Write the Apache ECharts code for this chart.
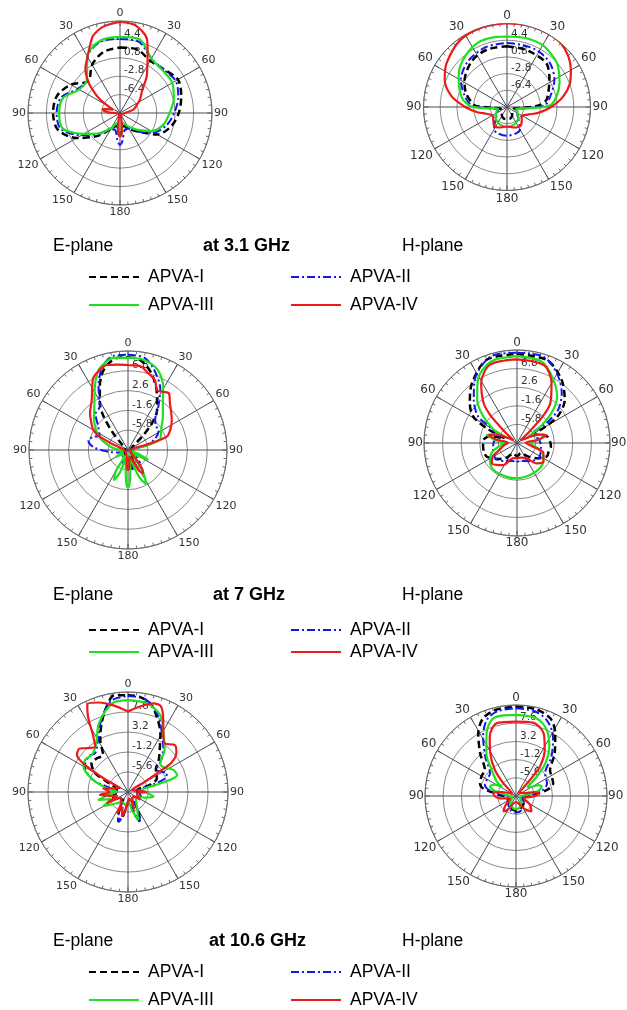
<!DOCTYPE html>
<html>
<head>
<meta charset="utf-8">
<script src="https://cdn.jsdelivr.net/npm/echarts@6/dist/echarts.min.js"></script>
<style>html,body{margin:0;padding:0;background:#fff}#c{width:627px;height:1010px}</style>
</head>
<body>
<div id="c"></div>
<script>
// ---- data: [angle (deg, clockwise from 0 at top), gain (dB)] ----
const SERIES_NAMES = ['APVA-I', 'APVA-II', 'APVA-III', 'APVA-IV'];
const ANGLE_LABELS = [0, 30, 60, 90, 120, 150, 180, 150, 120, 90, 60, 30];

// E-plane 3.1 GHz
const E31_I = [[0,2.8],[15,2.9],[30,1.8],[45,2.1],[60,3.1],[75,2.4],[90,1.5],[105,0.3],[120,-1.6],[135,-4.8],[150,-6.4],[165,-7.4],[180,-5.6],[195,-7.4],[210,-6.4],[225,-3.6],[240,-0.2],[255,2.6],[270,3.1],[285,2.8],[300,1.1],[315,-1.2],[330,0.9],[345,2.4]];
const E31_II = [[0,4.5],[15,4.4],[30,2.3],[45,2.0],[60,2.6],[75,1.8],[90,0.6],[105,-0.6],[120,-2.4],[135,-4.8],[150,-6.5],[165,-6.5],[175,-4.5],[180,-3.8],[185,-4.5],[195,-6.5],[210,-6.4],[225,-4.2],[240,-1.3],[255,2.0],[270,2.4],[285,1.9],[300,-0.5],[315,-0.8],[330,2.7],[345,4.5]];
const E31_III = [[0,4.9],[15,4.9],[30,2.3],[45,1.8],[60,1.8],[75,0.9],[90,-0.3],[105,-1.2],[120,-2.9],[135,-5.4],[150,-7],[165,-8],[175,-6.2],[180,-5.5],[185,-6.2],[195,-8],[210,-6.6],[225,-4.4],[240,-1.8],[255,1.6],[270,1.9],[285,1.5],[300,-0.8],[315,-0.8],[330,2.8],[345,4.7]];
const E31_IV = [[0,7.8],[10,7.4],[20,5.4],[25,2.8],[30,0.7],[36,-1.1],[45,-3.9],[56,-5.3],[66,-6.5],[76,-7.3],[90,-9],[120,-9.5],[160,-9.5],[170,-8],[175,-6],[180,-5.4],[185,-6],[190,-8],[200,-9.5],[260,-9.5],[272,-8],[278,-6.8],[283,-6.5],[288,-7.5],[295,-8.5],[300,-7.5],[304,-5.3],[309,-3.5],[314,-1.5],[322,1],[330,2.7],[340,5.8],[345,6.7],[350,7.3]];

// H-plane 3.1 GHz
const H31_I = [[0,3.1],[15,3.0],[25,2.9],[42,2.7],[57,0.9],[70,-0.5],[80,-1.4],[87,-3],[93,-6.5],[105,-8.5],[130,-8.5],[150,-7.8],[165,-7.4],[180,-7.4],[195,-7.4],[210,-7.8],[230,-8.5],[255,-8.5],[267,-6.5],[273,-3],[281,-1.8],[290,-0.5],[301,0.7],[323,2.5],[341,3.1]];
const H31_II = [[0,3.8],[15,3.8],[30,3.8],[45,3.2],[60,1.8],[80,-0.8],[88,-2],[94,-6],[105,-8],[130,-7],[150,-4.4],[160,-4],[180,-3.8],[200,-4],[210,-4.4],[230,-7],[255,-8],[266,-6],[272,-2.5],[283,-0.8],[300,1.5],[320,3.0],[341,3.7]];
const H31_III = [[0,5.2],[15,5.4],[30,5.4],[45,4.6],[52,4],[65,2.5],[78,0.9],[88,-0.8],[93,-5],[100,-8],[115,-7.5],[130,-6.8],[145,-6.2],[160,-5.9],[180,-5.7],[200,-5.9],[215,-6.2],[230,-6.8],[245,-7.5],[260,-8],[267,-5],[272,-2],[283,0.1],[302,2.3],[317,3.9],[335,5.2],[350,5.3]];
const H31_IV = [[0,8.1],[15,8.2],[30,8.2],[40,8],[50,7.2],[60,5.9],[70,4.4],[80,2.2],[90,-0.5],[100,-3],[110,-5.2],[122,-6.3],[132,-5.7],[145,-5],[160,-5.3],[180,-5.8],[200,-5.3],[215,-5.1],[228,-6],[238,-6.4],[252,-5.3],[260,-3.5],[270,-1],[281,2.2],[294,4.7],[306,6.1],[325,7.6],[343,8.0]];

// E-plane 7 GHz
const E70_I = [[0,9.7],[8,9.2],[17,7],[27,3.5],[36,0.5],[42,-2.4],[46,-5.5],[52,-8.5],[70,-9.3],[110,-9.3],[140,-8.5],[158,-7.5],[166,-6.4],[172,-7.5],[185,-7.8],[195,-7],[202,-8.5],[240,-9.3],[300,-9.3],[314,-8],[319,-5],[324,-1.2],[329,1.6],[336,4.7],[343,7.7],[352,9.6]];
const E70_II = [[0,10.2],[10,9.9],[18,7.9],[28,4.6],[35,1.2],[42,-1.4],[50,-2.2],[57,-2.2],[67,-3.7],[75,-5.8],[82,-8.5],[100,-9.2],[125,-8],[137,-6.2],[148,-7.5],[160,-6.5],[167,-5.8],[175,-7],[182,-6.5],[190,-7.5],[205,-7],[215,-8],[240,-9],[255,-8],[262,-6.5],[268,-5],[275,-2.6],[284,-1.3],[291,-2.2],[297,-3.2],[308,-2],[318,0.3],[327,1.0],[335,4.8],[343,8.5],[351,10.2]];
const E70_III = [[0,9.6],[10,9.4],[20,8.2],[29,5.4],[38,2],[46,0.3],[55,-1.3],[65,-2.3],[72,-2.9],[77,-6],[83,-9],[105,-9],[110,-7.8],[116,-5.2],[122,-7.8],[132,-9.2],[142,-7],[147,-3.8],[152,-1.8],[157,-3.5],[162,-7],[168,-9],[173,-6],[177,-3],[180,-2],[183,-3],[187,-6],[194,-8.5],[200,-4.8],[205,-2.9],[210,-4.8],[216,-8.5],[230,-8.5],[240,-7],[248,-8.5],[262,-9],[275,-7.5],[281,-6.2],[293,-3.6],[305,-1.5],[315,0.2],[322,1.6],[332,5],[338,7.5],[342,8.6],[351,9.8]];
const E70_IV = [[0,8.0],[8,8.0],[15,6.8],[21,5.9],[26,4.1],[31,4.4],[36,4.8],[42,3.3],[50,2],[56,1.2],[64,0],[71,-1.3],[74,-6],[80,-9.3],[120,-9.3],[138,-7.5],[143,-5],[147,-4.1],[152,-5],[158,-8],[170,-8.5],[176,-6.3],[180,-5.8],[184,-6.3],[190,-8.5],[260,-9.3],[285,-8.5],[292,-6],[296,-3],[300,-1.5],[305,-0.6],[314,1.2],[324,3.1],[334,6.9],[340,7.9],[346,8.6],[354,8.2]];

// H-plane 7 GHz
const H70_I = [[0,10.1],[20,9.9],[35,7.5],[48,4.5],[56,1.4],[60,-2.3],[62,-7],[68,-5],[78,-3],[88,-2.5],[96,-2.3],[105,-2.6],[114,-2.6],[128,-4.4],[140,-6],[160,-7.5],[180,-7],[200,-7.5],[215,-6],[228,-4.6],[246,-2.5],[255,-2.3],[264,-2.3],[275,-2.4],[283,-3.5],[291,-7],[296,-2.4],[301,1.5],[310,3.9],[323,6.9],[340,10]];
const H70_II = [[0,10.4],[17,10.4],[30,8.1],[42,5.1],[51,2],[56,-2],[60,-6],[68,-6],[80,-5],[100,-4.5],[125,-4],[145,-5],[165,-5.8],[180,-5.8],[195,-5.8],[215,-5],[235,-4],[260,-4.5],[280,-5],[292,-6],[298,-4],[301,-2.9],[304,0.5],[315,3.8],[326,7.1],[343,10.4]];
const H70_III = [[0,9.6],[17,9.2],[29,6.7],[41,3.8],[49,0.3],[55,-3.6],[60,-7],[67,-5],[74,-3.4],[81,-5],[90,-7],[100,-6],[110,-4],[123,-2.9],[138,-2.3],[158,-2.2],[180,-2],[197,-2],[221,-1.9],[238,-2.8],[250,-4],[260,-6],[270,-7.5],[278,-5],[285,-2.9],[292,-5],[297,-6],[300,-3.9],[308,-0.4],[317,3.2],[328,6.7],[342,9.3]];
const H70_IV = [[0,8.9],[19,8.6],[30,5.6],[40,1.7],[44,-1.5],[47,-6],[52,-9],[62,-8],[68,-5],[75,-3.1],[81,-5],[88,-8],[100,-7],[111,-3.6],[125,-2.7],[136,-3.6],[148,-5.9],[165,-6.6],[180,-6.6],[193,-6.5],[212,-4.1],[231,-2.7],[240,-3.6],[250,-6],[260,-7],[272,-8],[280,-5],[286,-3.3],[292,-5],[300,-8],[308,-9],[313,-6],[316,-1.5],[320,1.7],[329,5.7],[341,8.7]];

// E-plane 10.6 GHz
const E106_I = [[0,11.3],[7,11.1],[14,10.1],[21,7.7],[29,4.7],[37,1.6],[45,-0.5],[50,-2],[57,-2.5],[65,-3],[72,-5],[80,-8],[95,-8],[110,-7],[125,-8],[145,-7.5],[152,-5],[158,-3],[164,-5],[172,-8],[185,-7],[192,-4.5],[198,-3.1],[204,-5],[212,-8],[230,-7.5],[250,-6.5],[265,-7],[280,-7.5],[290,-7],[296,-4.8],[300,-1.6],[308,0.2],[317,0.1],[326,-0.2],[332,3],[339,6.2],[346,9.4],[352,11.5]];
const E106_II = [[0,11.1],[11,10.7],[22,7.9],[30,4.9],[38,2.6],[46,0.2],[52,-2.1],[58,-1.5],[64,-0.5],[70,-1.3],[74,-4.6],[80,-8],[95,-7.5],[110,-7],[125,-8],[145,-7.5],[152,-5],[158,-3],[164,-5],[172,-8],[185,-7],[192,-4.5],[198,-3.1],[204,-5],[212,-8],[230,-7.5],[250,-7],[270,-7.5],[280,-6.5],[284,-5.2],[289,-1.9],[300,1],[312,1.7],[320,1.2],[330,3.2],[341,7.5],[350,10.5]];
const E106_III = [[0,10.2],[12,9.9],[23,8.3],[31,5.1],[41,2.3],[48,-0.5],[55,-0.5],[64,1.1],[71,1.4],[74,-0.5],[76,-4],[82,-7],[92,-6],[100,-4.3],[108,-6],[118,-8],[135,-7.5],[150,-6],[160,-3.4],[168,-6],[178,-8],[190,-7],[210,-7.5],[225,-6.5],[240,-3.8],[247,-6],[255,-3.2],[263,-6],[272,-7.5],[280,-5.2],[290,-1.5],[300,1.3],[307,1.8],[316,1.4],[327,2.8],[337,6.4],[350,9.8]];
const E106_IV = [[0,7.7],[8,9],[16,10.3],[21,10.2],[26,7.7],[32,4.7],[37,3.4],[45,4.6],[51,3.7],[56,1.5],[57,-1.5],[59,-6],[63,-9],[80,-8],[90,-5.9],[100,-8],[115,-7.5],[122,-6.8],[130,-8.5],[150,-8],[160,-5.9],[168,-8.5],[180,-8],[188,-6],[194,-4.4],[200,-6.5],[208,-4.7],[216,-7.5],[232,-8],[242,-4.7],[250,-7.5],[258,-6],[264,-3.8],[270,-6],[278,-4.5],[286,-7],[296,-8],[299,-4],[301,-1],[303,2.2],[306,3.9],[312,4.3],[318,3],[324,2.3],[328,4.4],[332,8.7],[335,11.2],[342,10.7],[350,9.4]];

// H-plane 10.6 GHz
const H106_I = [[0,11.6],[13,11.5],[24,10.5],[32,7.9],[42,4],[53,0.3],[62,-0.2],[71,-0.5],[79,-2.4],[86,-6],[100,-8],[130,-7.5],[160,-6.8],[180,-6.4],[200,-6.8],[230,-7.5],[260,-8],[274,-6],[283,-1.9],[289,-0.8],[300,-0.4],[310,-0.2],[320,3.5],[329,7.7],[337,10.4],[347,11.4]];
const H106_II = [[0,11.2],[12,11],[22,9.8],[32,6.9],[42,2.8],[52,-1.1],[60,-1.6],[68,-1.9],[78,-3.5],[86,-7],[100,-8.5],[130,-7.5],[160,-6.3],[180,-6],[200,-6.3],[230,-7.5],[260,-8.5],[274,-7],[282,-3.5],[290,-2],[300,-1.9],[311,-1.7],[322,2.1],[331,6.4],[339,9.7],[348,11]];
const H106_III = [[0,9.6],[15,9.4],[25,7.6],[34,4.4],[42,0.6],[47,-3.1],[52,-6.5],[58,-6],[64,-4],[70,-3.4],[77,-4.5],[86,-8],[110,-9],[140,-8],[165,-7],[180,-6.8],[195,-7],[220,-8],[250,-9],[275,-8],[284,-4.5],[290,-3.3],[297,-4],[303,-6],[307,-4.2],[317,-1.4],[325,2.5],[335,6.8],[344,9.6]];
const H106_IV = [[0,8],[13,8.2],[24,6.5],[32,3.1],[39,-0.8],[41,-4.8],[44,-9],[70,-8],[78,-5.5],[85,-4.4],[92,-6],[105,-8],[122,-6],[135,-4.7],[145,-6],[160,-8],[180,-8.5],[200,-8],[212,-6],[219,-5.2],[228,-6.5],[245,-8.5],[262,-6],[270,-4.8],[278,-4.5],[286,-6.5],[300,-9],[313,-8],[315,-5.7],[321,-1.9],[329,2.1],[336,5.6],[345,8.2]];

// ring scales (dB) : centre value, outer value, ring step
const SCALE_31 = [-10, 8, 3.6];
const SCALE_70 = [-10, 11, 4.2];
const SCALE_106 = [-10, 12, 4.4];

const TITLES = [['E-plane', 'at 3.1 GHz', 'H-plane'], ['E-plane', 'at 7 GHz', 'H-plane'], ['E-plane', 'at 10.6 GHz', 'H-plane']];

// ---- layout ----
const PLOTS = [
  {c: [120, 113], r: 92, scale: SCALE_31, data: [E31_I, E31_II, E31_III, E31_IV], fs: 11, m: 2},
  {c: [507, 107], r: 83.5, scale: SCALE_31, data: [H31_I, H31_II, H31_III, H31_IV], fs: 12, m: 2},
  {c: [128, 450], r: 99, scale: SCALE_70, data: [E70_I, E70_II, E70_III, E70_IV], fs: 11, m: 2},
  {c: [517, 443], r: 93, scale: SCALE_70, data: [H70_I, H70_II, H70_III, H70_IV], fs: 12, m: 1},
  {c: [128, 792], r: 100, scale: SCALE_106, data: [E106_I, E106_II, E106_III, E106_IV], fs: 11, m: 2},
  {c: [516, 796], r: 91, scale: SCALE_106, data: [H106_I, H106_II, H106_III, H106_IV], fs: 12, m: 1}
];
const STYLES = [
  {color: '#000000', width: 2.5, type: [7, 4]},
  {color: '#1515f0', width: 2, type: [8, 3, 2, 3]},
  {color: '#1fe01f', width: 2.2, type: 'solid'},
  {color: '#ee1a1a', width: 2.2, type: 'solid'}
];
const BLOCKS = [{y: 246, ly: 267, gap: 8, cx: 203}, {y: 595, ly: 620, gap: 2, cx: 213}, {y: 941, ly: 962, gap: 8, cx: 209}];

const polar = [], angleAxis = [], radiusAxis = [], series = [];
PLOTS.forEach((p, i) => {
  const lo = p.scale[0], hi = p.scale[1], step = p.scale[2];
  const span = +(hi - lo).toFixed(6);
  polar.push({center: p.c, radius: p.r});
  angleAxis.push({
    polarIndex: i, type: 'value', min: 0, max: 360, interval: 30, startAngle: 90, clockwise: true,
    axisLine: {lineStyle: {color: '#6a6a6a', width: 1}},
    axisTick: {show: true, inside: true, length: 5, lineStyle: {color: '#6a6a6a'}},
    minorTick: {show: true, splitNumber: 6, length: 3, lineStyle: {color: '#6a6a6a'}},
    splitLine: {show: true, lineStyle: {color: '#4a4a5a', width: 1}},
    axisLabel: {
      margin: p.m, fontSize: p.fs, color: '#333', fontFamily: 'DejaVu Sans',
      formatter: v => (v >= 360 ? '' : String(ANGLE_LABELS[Math.round(v / 30) % 12]))
    }
  });
  radiusAxis.push({
    polarIndex: i, type: 'value', min: 0, max: span, interval: step,
    axisLine: {show: false}, axisTick: {show: false},
    splitLine: {show: true, lineStyle: {color: '#8a8a8a', width: 1}},
    axisLabel: {
      margin: -4, align: 'left', verticalAlign: 'bottom', fontSize: 10.5, color: '#333', fontFamily: 'DejaVu Sans',
      formatter: v => (v < 1e-6 || v > span - 1e-6 ? '' : (v + lo).toFixed(1))
    }
  });
  p.data.forEach((arr, k) => {
    const d = arr.map(q => [Math.max(q[1] - lo, 0.05), q[0]]);
    d.push([arr[0][1] - lo, 360]);
    series.push({
      name: SERIES_NAMES[k], type: 'line', coordinateSystem: 'polar', polarIndex: i,
      data: d, symbol: 'none', showSymbol: false, smooth: 0.3, clip: false,
      lineStyle: STYLES[k], itemStyle: {color: STYLES[k].color, opacity: 0},
      z: 3 + k, silent: true, animation: false
    });
  });
});

const title = [], legend = [];
BLOCKS.forEach((b, j) => {
  const ts = {fontSize: 17.5, fontWeight: 'normal', color: '#000', fontFamily: 'Liberation Sans', lineHeight: 20};
  title.push({text: TITLES[j][0], left: 53, top: b.y - 10, padding: 0, textStyle: ts});
  title.push({text: TITLES[j][1], left: b.cx, top: b.y - 10, padding: 0, textStyle: Object.assign({}, ts, {fontWeight: 'bold', fontSize: 18})});
  title.push({text: TITLES[j][2], left: 402, top: b.y - 10, padding: 0, textStyle: ts});
  const lt = {fontSize: 17.5, color: '#000', fontFamily: 'Liberation Sans', lineHeight: 20, padding: [0, 0, 0, 4]};
  const hidden = {color: 'rgba(0,0,0,0)', borderColor: 'rgba(0,0,0,0)', borderWidth: 0, opacity: 0};
  legend.push({left: 88, top: b.ly, orient: 'vertical', itemWidth: 50, itemHeight: 14, itemGap: b.gap, padding: 0,
    selectedMode: false, data: [SERIES_NAMES[0], SERIES_NAMES[2]], textStyle: lt, itemStyle: hidden});
  legend.push({left: 290, top: b.ly, orient: 'vertical', itemWidth: 50, itemHeight: 14, itemGap: b.gap, padding: 0,
    selectedMode: false, data: [SERIES_NAMES[1], SERIES_NAMES[3]], textStyle: lt, itemStyle: hidden});
});

const chart = echarts.init(document.getElementById('c'), null, {renderer: 'canvas'});
chart.setOption({backgroundColor: '#fff', animation: false, title, legend, polar, angleAxis, radiusAxis, series});
</script>
</body>
</html>
